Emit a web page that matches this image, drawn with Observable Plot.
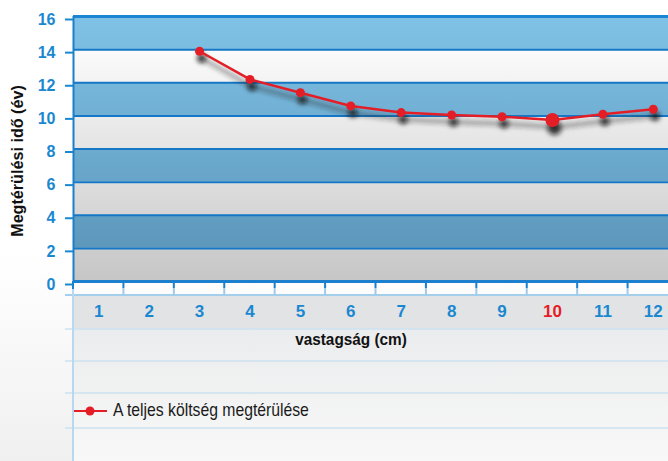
<!DOCTYPE html>
<html><head><meta charset="utf-8">
<script src="https://cdn.jsdelivr.net/npm/d3@7"></script>
<script src="https://cdn.jsdelivr.net/npm/@observablehq/plot@0.6"></script>
<style>
html,body{margin:0;padding:0;width:668px;height:461px;overflow:hidden;
  background:linear-gradient(#ffffff 0%,#ffffff 55%,#f0f0f0 100%);}
#chart svg{display:block;}
</style></head><body><div id="chart"></div>
<script>
// ---- data ----
const categories = [1,2,3,4,5,6,7,8,9,10,11,12];          // vastagság (cm)
const thickness  = [3,4,5,6,7,8,9,10,11,12];
const payback    = [13.9,12.2,11.4,10.6,10.2,10.05,9.95,9.75,10.1,10.4]; // év
const highlighted = 10;
const yTicks = [0,2,4,6,8,10,12,14,16];
const yTitle = "Megtérülési idő (év)";
const xTitle = "vastagság (cm)";
const legendLabel = "A teljes költség megtérülése";

(function(){
const data = thickness.map((t,i)=>({t, v: payback[i]}));
const bands = yTicks.slice(0,-1).map((v,i)=>({y1:v, y2:yTicks[i+1], kind: i%2===0 ? "gray" : "blue"}));

const RED = "#e41e26", BLUE = "#1a88d0", FONT = "'Liberation Sans Narrow','Arial Narrow','Liberation Sans',Arial,sans-serif";

const plot = Plot.plot({
  width: 668, height: 461,
  marginTop: 16, marginBottom: 180, marginLeft: 73, marginRight: 0,
  style: {background: "transparent", fontFamily: FONT, overflow: "hidden"},
  x: {type: "linear", domain: [0.5, 12.5], range: [73, 678], axis: null, label: null},
  y: {type: "linear", domain: [0, 16], range: [281, 16], axis: null, label: null},
  marks: [
    Plot.rectY(bands.filter(b=>b.kind==="blue"), {y1:"y1", y2:"y2", fill:"url(#blueGrad)"}),
    Plot.rectY(bands.filter(b=>b.kind==="gray"), {y1:"y1", y2:"y2", fill:"url(#grayGrad)"}),
    Plot.ruleY(yTicks.filter(v=>v>0 && v<16), {stroke:"#1577c5", strokeWidth:2}),
    Plot.ruleY([16], {stroke:"#1a85d0", strokeWidth:3}),
    Plot.ruleY([0], {stroke:"#1a7fcc", strokeWidth:3}),
    Plot.ruleX([0.5], {y1:0, y2:16, stroke:"#1a7fcc", strokeWidth:2}),
    // shadows
    Plot.line(data, {x:"t", y:"v", stroke:"#222", strokeOpacity:0.5, strokeWidth:3.5, dx:2, dy:7, ariaDescription:"shadow"}),
    Plot.dot(data.filter(d=>d.t!==highlighted), {x:"t", y:"v", r:4.5, fill:"#111", fillOpacity:0.8, dx:2, dy:7, ariaDescription:"shadow"}),
    Plot.dot(data.filter(d=>d.t===highlighted), {x:"t", y:"v", r:7, fill:"#111", fillOpacity:0.8, dx:2, dy:8, ariaDescription:"shadow"}),
    // series
    Plot.line(data, {x:"t", y:"v", stroke:RED, strokeWidth:2.5}),
    Plot.dot(data.filter(d=>d.t!==highlighted), {x:"t", y:"v", r:4.5, fill:RED}),
    Plot.dot(data.filter(d=>d.t===highlighted), {x:"t", y:"v", r:7, fill:RED}),
    // axes
    Plot.axisY(yTicks, {tickSize:8, tickPadding:10, color:BLUE, strokeWidth:2, fontSize:16, fontWeight:"bold", dy:3, label:null}),
    Plot.axisX(categories.filter(c=>c!==highlighted), {tickSize:0, tickPadding:23, color:BLUE, fontSize:17, fontWeight:"bold", label:null}),
    Plot.axisX([highlighted], {tickSize:0, tickPadding:23, color:RED, fontSize:17, fontWeight:"bold", label:null})
  ]
});
document.getElementById("chart").appendChild(plot);

// ---- chrome ----
const svg = d3.select(plot);
const xs = plot.scale("x");
const defs = svg.insert("defs", ":first-child");
const g1 = defs.append("linearGradient").attr("id","blueGrad").attr("gradientUnits","userSpaceOnUse")
  .attr("x1",0).attr("x2",0).attr("y1",16).attr("y2",250);
g1.append("stop").attr("offset","0").attr("stop-color","#80c2e7");
g1.append("stop").attr("offset","1").attr("stop-color","#5d98bb");
const g2 = defs.append("linearGradient").attr("id","grayGrad").attr("gradientUnits","userSpaceOnUse")
  .attr("x1",0).attr("x2",0).attr("y1",52).attr("y2",281);
g2.append("stop").attr("offset","0").attr("stop-color","#fafafa");
g2.append("stop").attr("offset","1").attr("stop-color","#c6c6c6");
const g3 = defs.append("linearGradient").attr("id","lowGrad").attr("x1",0).attr("x2",0).attr("y1",0).attr("y2",1);
g3.append("stop").attr("offset","0").attr("stop-color","#ebeced");
g3.append("stop").attr("offset","1").attr("stop-color","#f8f8f8");
const f = defs.append("filter").attr("id","blur").attr("x","-50%").attr("y","-50%").attr("width","200%").attr("height","200%");
f.append("feGaussianBlur").attr("stdDeviation",2.4);
svg.selectAll('[aria-description="shadow"]').attr("filter","url(#blur)");

const low = svg.insert("g", "defs + *");
low.append("rect").attr("x",73).attr("y",295).attr("width",600).attr("height",34).attr("fill","#e2e3e5");
low.append("rect").attr("x",73).attr("y",329).attr("width",600).attr("height",132).attr("fill","url(#lowGrad)");
[329,361,393,428].forEach(y=>low.append("line").attr("x1",65).attr("x2",668).attr("y1",y).attr("y2",y)
  .attr("stroke","#cde2f1").attr("stroke-width",1.5));
low.append("line").attr("x1",65).attr("x2",668).attr("y1",295).attr("y2",295).attr("stroke","#a4cfec").attr("stroke-width",2);
low.append("line").attr("x1",73).attr("x2",73).attr("y1",288).attr("y2",461).attr("stroke","#b8d8ef").attr("stroke-width",2);
low.append("line").attr("x1",73).attr("x2",73).attr("y1",281).attr("y2",289).attr("stroke","#1a7fcc").attr("stroke-width",2);
categories.forEach(c=>{
  const bx = xs.apply(c+0.5);
  low.append("line").attr("x1",bx).attr("x2",bx).attr("y1",282).attr("y2",288).attr("stroke","#1a7fcc").attr("stroke-width",2);
  low.append("line").attr("x1",bx).attr("x2",bx).attr("y1",288).attr("y2",295).attr("stroke","#9fcbeb").attr("stroke-width",2);
});

const over = svg.append("g").attr("font-family", FONT);
over.append("text").attr("transform","translate(19,161) rotate(-90) scale(0.95,1)").attr("text-anchor","middle")
  .attr("dominant-baseline","middle").attr("font-size",17).attr("font-weight","bold").attr("fill","#111").text(yTitle);
over.append("text").attr("transform","translate(351,341) scale(0.93,1)").attr("text-anchor","middle").attr("dominant-baseline","middle")
  .attr("font-size",16.5).attr("font-weight","bold").attr("fill","#111").text(xTitle);
over.append("line").attr("x1",74).attr("x2",107).attr("y1",411).attr("y2",411).attr("stroke",RED).attr("stroke-width",2);
over.append("circle").attr("cx",90).attr("cy",411).attr("r",4.5).attr("fill",RED);
over.append("text").attr("transform","translate(113,411) scale(0.9,1)").attr("text-anchor","start").attr("dominant-baseline","middle")
  .attr("font-size",17.5).attr("fill","#1a1a1a").text(legendLabel);
})();
</script></body></html>
